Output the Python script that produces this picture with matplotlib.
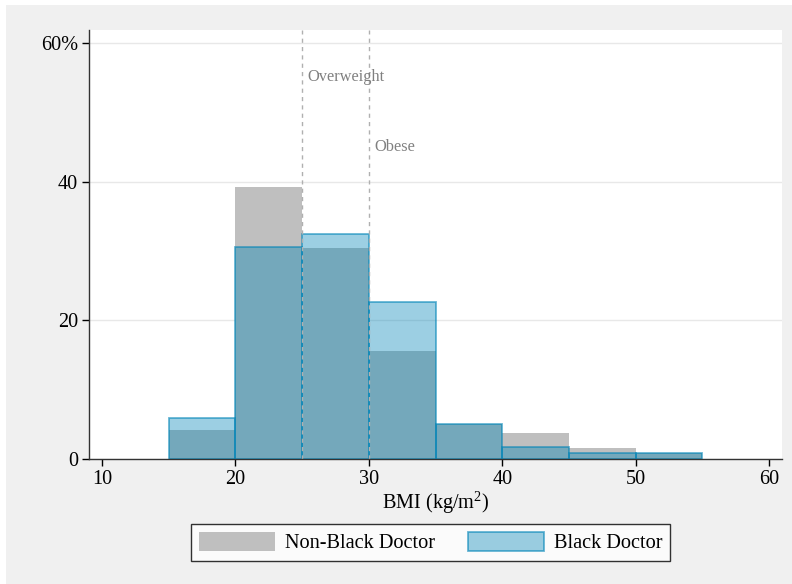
import matplotlib
matplotlib.use("Agg")
import matplotlib.pyplot as plt
from matplotlib.patches import Patch, Rectangle

# BMI bins (left edges, width 5) and percent of doctors per bin
bin_left = [15, 20, 25, 30, 35, 40, 45, 50]
non_black = [4.2, 39.2, 30.5, 15.6, 5.0, 3.7, 1.6, 0.8]
black = [5.9, 30.6, 32.4, 22.6, 5.1, 1.7, 0.9, 0.9]

cutoffs = [25, 30]
cutoff_labels = ["Overweight", "Obese"]
cutoff_label_y = [55.1, 45.0]

plt.rcParams['font.family'] = ['Liberation Serif', 'DejaVu Serif']
plt.rcParams['mathtext.fontset'] = 'custom'
plt.rcParams['mathtext.rm'] = 'Liberation Serif'

fig = plt.figure(figsize=(7.92, 5.84), dpi=100)
fig.patch.set_facecolor('white')
# light grey backdrop with a thin white margin at top and left
fig.add_artist(Rectangle((6 / 792, 0), 1, 1 - 5 / 584, transform=fig.transFigure,
                         facecolor='#f0f0f0', edgecolor='none', zorder=0))

ax = fig.add_axes([0.1124, 0.214, 0.875, 0.735])
ax.set_facecolor('white')

blue = (0/255, 132/255, 183/255)
ax.bar(bin_left, non_black, width=5, align='edge', color='#bfbfbf', linewidth=0, zorder=2)
ax.bar(bin_left, black, width=5, align='edge', color=blue + (0.39,),
       edgecolor=blue + (0.6,), linewidth=1.3, zorder=3)

for x, lab, ly in zip(cutoffs, cutoff_labels, cutoff_label_y):
    ax.axvline(x, color='#b0b0b0', linestyle=(0, (3, 3)), linewidth=1, zorder=4)
    ax.text(x + 0.4, ly, lab, color='#808080', fontsize=11.8, va='center', ha='left', zorder=5)

ax.set_xlim(9.03, 60.97)
ax.set_ylim(0, 61.9)
ax.set_xticks([10, 20, 30, 40, 50, 60])
ax.set_yticks([0, 20, 40, 60])
ax.set_yticklabels(['0', '20', '40', '60%'])
ax.tick_params(axis='both', labelsize=14.6, direction='out', length=5, width=1,
               colors='black', pad=3)
ax.yaxis.grid(True, color='#e8e8e8', linewidth=1, zorder=0)
ax.set_axisbelow(True)

for s in ['top', 'right']:
    ax.spines[s].set_visible(False)
for s in ['left', 'bottom']:
    ax.spines[s].set_color('#333333')
    ax.spines[s].set_linewidth(1)
    ax.spines[s].set_zorder(6)

ax.set_xlabel('BMI (kg/m$^2$)', fontsize=14.6, labelpad=0)

handles = [Patch(facecolor='#bfbfbf', edgecolor='none', label='Non-Black Doctor'),
           Patch(facecolor=blue + (0.39,), edgecolor=blue + (0.6,), linewidth=1.3, label='Black Doctor')]
leg = fig.legend(handles=handles, loc='center', bbox_to_anchor=(0.5436, 0.071), ncol=2,
                 fontsize=14.6, frameon=True, fancybox=False, edgecolor='black',
                 handlelength=3.75, handleheight=1.05, handletextpad=0.5,
                 columnspacing=1.6, borderpad=0.4, borderaxespad=0)
leg.get_frame().set_linewidth(1)

fig.savefig('out.png', dpi=100, facecolor=fig.get_facecolor())
